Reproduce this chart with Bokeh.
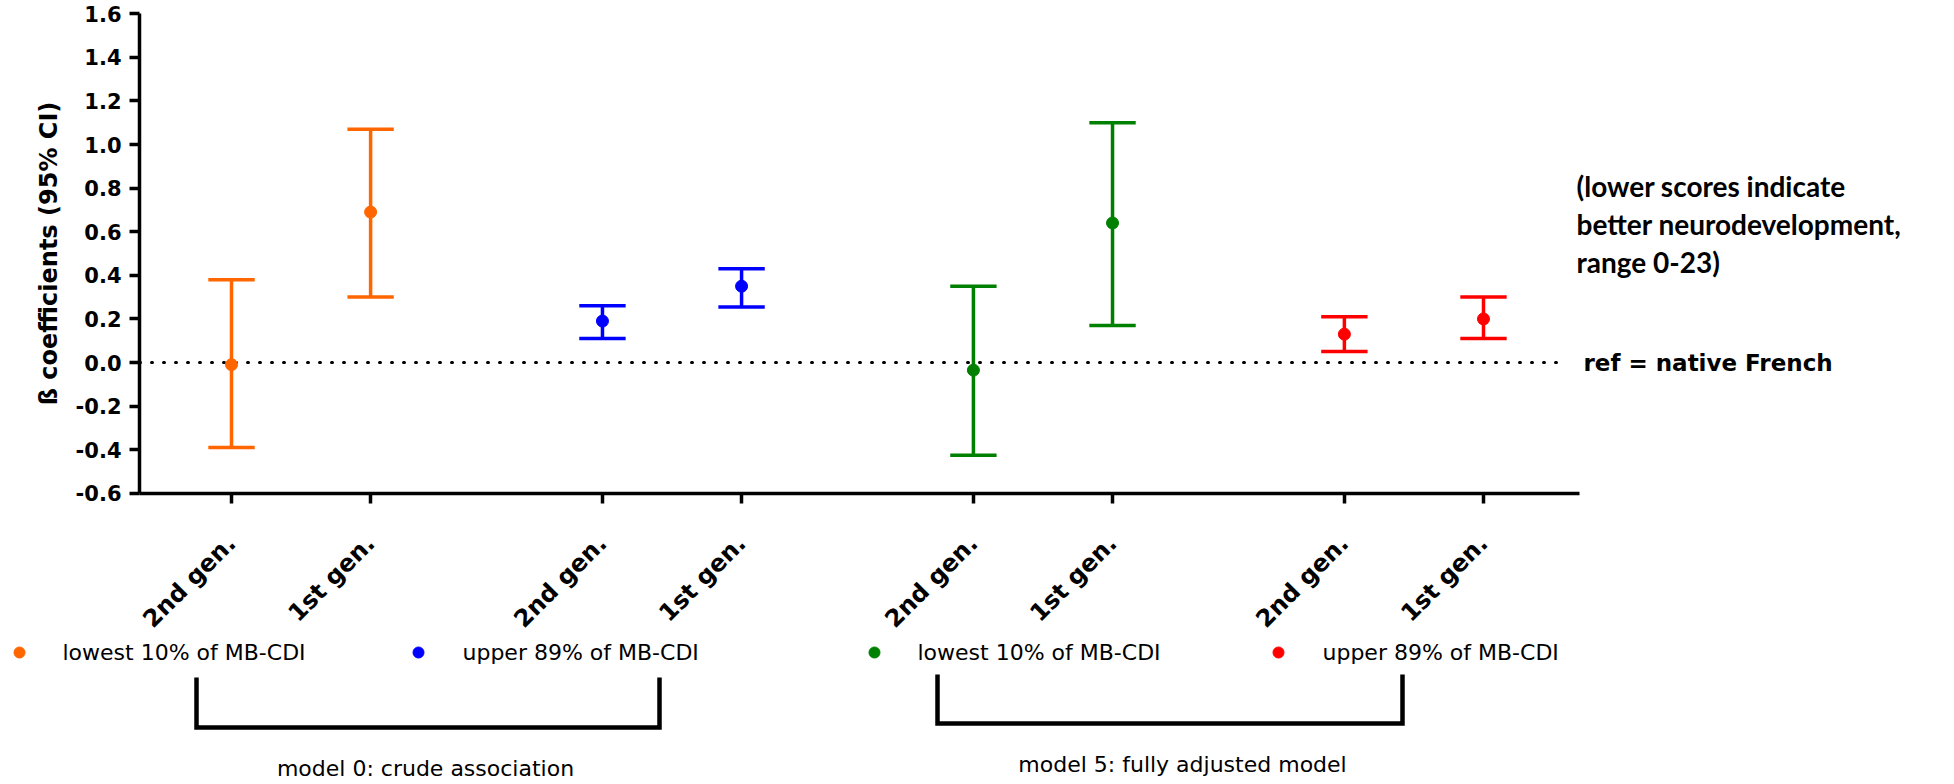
from math import pi
from bokeh.plotting import figure
from bokeh.models import (LinearAxis, FixedTicker, PrintfTickFormatter, CustomJSTickFormatter,
                          Label, ColumnDataSource, Range1d)
from bokeh.embed import file_html
from bokeh.resources import INLINE

# ---------------- data ----------------
generations = ["2nd gen.", "1st gen."]
model_labels = ["model 0: crude association", "model 5: fully adjusted model"]
series_labels = ["lowest 10% of MB-CDI", "upper 89% of  MB-CDI",
                 "lowest 10% of MB-CDI", "upper 89% of  MB-CDI"]
series_colors = ["#FF6600", "#0000FF", "#008000", "#FF0000"]

m0_low_beta = [-0.01, 0.69]
m0_low_lo = [-0.39, 0.30]
m0_low_hi = [0.38, 1.07]

m0_up_beta = [0.19, 0.35]
m0_up_lo = [0.11, 0.255]
m0_up_hi = [0.26, 0.43]

m5_low_beta = [-0.035, 0.64]
m5_low_lo = [-0.425, 0.17]
m5_low_hi = [0.35, 1.10]

m5_up_beta = [0.13, 0.20]
m5_up_lo = [0.05, 0.11]
m5_up_hi = [0.21, 0.30]

y_ticks = [-0.6, -0.4, -0.2, 0.0, 0.2, 0.4, 0.6, 0.8, 1.0, 1.2, 1.4, 1.6]
y_label = "\u00df coefficients (95% CI)"
ref_label = "ref = native French"
note_text = "(lower scores indicate\nbetter neurodevelopment,\nrange 0-23)"

series = [
    (m0_low_beta, m0_low_lo, m0_low_hi),
    (m0_up_beta, m0_up_lo, m0_up_hi),
    (m5_low_beta, m5_low_lo, m5_low_hi),
    (m5_up_beta, m5_up_lo, m5_up_hi),
]

# ---------------- layout ----------------
W, H = 1954, 784
X0, Y0 = 231.0, 362.0      # canvas pixel of x=0 / y=0
PXX, PXY = 46.37, 218.0    # pixels per data unit
GROUP_STEP, PAIR_STEP, CAP_HALF = 8, 3, 0.5
FONT = "DejaVu Sans"


def cx(px):
    return (px - X0) / PXX


def cy(py):
    return (Y0 - py) / PXY


x_axis_left = cx(139)
x_axis_right = cx(1579)

p = figure(width=W, height=H,
           x_range=Range1d(cx(0), cx(W)), y_range=Range1d(cy(H), cy(0)),
           output_backend="svg", toolbar_location=None,
           x_axis_location=None, y_axis_location=None,
           min_border=0, min_border_left=0, min_border_right=0,
           min_border_top=0, min_border_bottom=0,
           outline_line_color=None, background_fill_color="white")
p.grid.visible = False

# ---------------- axes ----------------
yaxis = LinearAxis(fixed_location=x_axis_left, bounds=(y_ticks[0], y_ticks[-1]),
                   ticker=FixedTicker(ticks=y_ticks, minor_ticks=[]),
                   formatter=PrintfTickFormatter(format="%.1f"),
                   axis_line_width=3.5, axis_line_color="black",
                   major_tick_line_width=3.5, major_tick_out=10, major_tick_in=0,
                   minor_tick_out=0, minor_tick_in=0, major_label_standoff=8,
                   major_label_text_font=FONT, major_label_text_font_size="21px",
                   major_label_text_font_style="bold", major_label_text_color="black")
p.add_layout(yaxis, "left")

x_ticks = []
x_tick_labels = []
for g in range(len(series)):
    for k, gen in enumerate(generations):
        x_ticks.append(g * GROUP_STEP + k * PAIR_STEP)
        x_tick_labels.append(gen)

xaxis = LinearAxis(fixed_location=y_ticks[0], bounds=(x_axis_left, x_axis_right),
                   ticker=FixedTicker(ticks=x_ticks, minor_ticks=[]),
                   formatter=CustomJSTickFormatter(args=dict(pos=x_ticks, labs=x_tick_labels), code="""
                       for (let i = 0; i < pos.length; i++) {
                           if (Math.abs(pos[i] - tick) < 1e-6) return labs[i];
                       }
                       return "";
                   """),
                   axis_line_width=3.5, axis_line_color="black",
                   major_tick_line_width=3.5, major_tick_out=10, major_tick_in=0,
                   minor_tick_out=0, minor_tick_in=0, major_label_standoff=36,
                   major_label_orientation=pi / 4,
                   major_label_text_font=FONT, major_label_text_font_size="24px",
                   major_label_text_font_style="bold", major_label_text_color="black")
p.add_layout(xaxis, "below")

# reference line at 0
p.segment(x0=[x_axis_left], y0=[0], x1=[cx(1566)], y1=[0],
          line_color="black", line_width=3, line_dash="1 11", line_cap="round")

# ---------------- error bars ----------------
for g, ((beta, lo, hi), color) in enumerate(zip(series, series_colors)):
    xs = [g * GROUP_STEP + k * PAIR_STEP for k in range(len(generations))]
    src = ColumnDataSource(dict(x=xs, beta=beta, lo=lo, hi=hi,
                                xl=[x - CAP_HALF for x in xs], xr=[x + CAP_HALF for x in xs]))
    p.segment(x0="x", y0="lo", x1="x", y1="hi", source=src, line_color=color, line_width=3.5)
    p.segment(x0="xl", y0="lo", x1="xr", y1="lo", source=src, line_color=color, line_width=3.5)
    p.segment(x0="xl", y0="hi", x1="xr", y1="hi", source=src, line_color=color, line_width=3.5)
    p.scatter(x="x", y="beta", source=src, size=12, fill_color=color, line_color=color)

# ---------------- texts ----------------
p.add_layout(Label(x=cx(48), y=cy(253), text=y_label, angle=pi / 2,
                   text_align="center", text_baseline="middle",
                   text_font=FONT, text_font_size="24px", text_font_style="bold",
                   text_color="black"))

p.add_layout(Label(x=cx(1583), y=0, text=ref_label, text_align="left", text_baseline="middle",
                   text_font=FONT, text_font_size="23px", text_font_style="bold",
                   text_color="black"))

p.add_layout(Label(x=cx(1576), y=cy(168), text=note_text, text_align="left",
                   text_baseline="top", text_font="Lato", text_font_size="28px",
                   text_font_style="bold", text_line_height=1.12, text_color="black"))

# legend row
legend_dot_px = [19, 418, 874, 1278]
legend_txt_px = [62, 462, 917, 1322]
legend_y = cy(652)
p.scatter(x=[cx(v) for v in legend_dot_px], y=[legend_y] * 4, size=11,
          fill_color=series_colors, line_color=series_colors)
for lab, px in zip(series_labels, legend_txt_px):
    p.add_layout(Label(x=cx(px), y=legend_y, text=lab, text_align="left", text_baseline="middle",
                       text_font=FONT, text_font_size="22px", text_color="black"))

# model brackets
brackets_px = [(196, 659, 677, 727), (937, 1402, 674, 723)]
p.multi_line(xs=[[cx(l), cx(l), cx(r), cx(r)] for l, r, t, b in brackets_px],
             ys=[[cy(t), cy(b), cy(b), cy(t)] for l, r, t, b in brackets_px],
             line_color="black", line_width=4.5, line_join="miter")

model_label_px = [(425, 768), (1182, 764)]
for lab, (px, py) in zip(model_labels, model_label_px):
    p.add_layout(Label(x=cx(px), y=cy(py), text=lab, text_align="center", text_baseline="middle",
                       text_font=FONT, text_font_size="22px", text_color="black"))

open("out.html", "w").write(file_html(p, INLINE))
